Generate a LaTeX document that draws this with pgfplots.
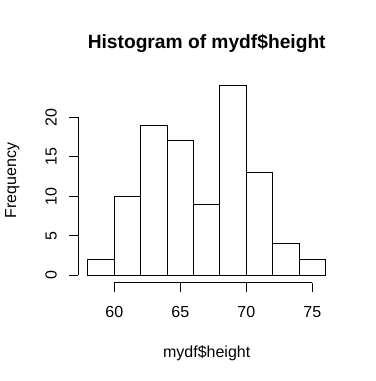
\documentclass[border=0pt]{standalone}
\usepackage{pgfplots}
\pgfplotsset{compat=1.18}
\usepackage{fontspec}
\setmainfont{Liberation Sans}
\begin{document}
\begin{tikzpicture}[x=1pt,y=1pt]
\useasboundingbox (-58.8,-73.575) rectangle (222.45,212.175);
\begin{axis}[at={(0,0)}, anchor=south west, scale only axis,
  width=192.45pt, height=153.6pt,
  xmin=57.28, xmax=76.72, ymin=-0.96, ymax=24.96,
  axis x line*=bottom, axis y line*=left,
  axis line style={draw=none},
  xtick={60,65,70,75}, ytick={0,5,10,15,20},
  tick align=outside, major tick length=6.75pt,
  tick style={black, line width=0.75pt},
  font=\fontsize{12}{14}\selectfont,
  /pgf/number format/assume math mode=true,
  xticklabel style={anchor=base, yshift=-19.5pt, inner sep=0pt},
  yticklabel style={rotate=90, anchor=base, yshift=9.5pt, inner sep=0pt},
  title={\bfseries\fontsize{14.4}{17}\selectfont Histogram of mydf\$height},
  title style={at={(axis description cs:0.5,1)}, anchor=base, yshift=16.5pt, inner sep=0pt},
  xlabel={mydf\$height},
  xlabel style={at={(axis description cs:0.5,0)}, anchor=base, yshift=-56.1pt, inner sep=0pt},
  ylabel={Frequency},
  ylabel style={at={(axis description cs:-0.243,0.5)}, anchor=base, rotate=0, inner sep=0pt},
  clip=false,
]
\addplot[ybar interval, fill=white, draw=black, line width=0.75pt]
  coordinates {(58,2)(60,10)(62,19)(64,17)(66,9)(68,24)(70,13)(72,4)(74,2)(76,2)};
\draw[line width=0.75pt] (axis cs:60,-0.96) -- (axis cs:75,-0.96);
\draw[line width=0.75pt] (axis cs:57.28,0) -- (axis cs:57.28,20);
\end{axis}
\end{tikzpicture}
\end{document}
